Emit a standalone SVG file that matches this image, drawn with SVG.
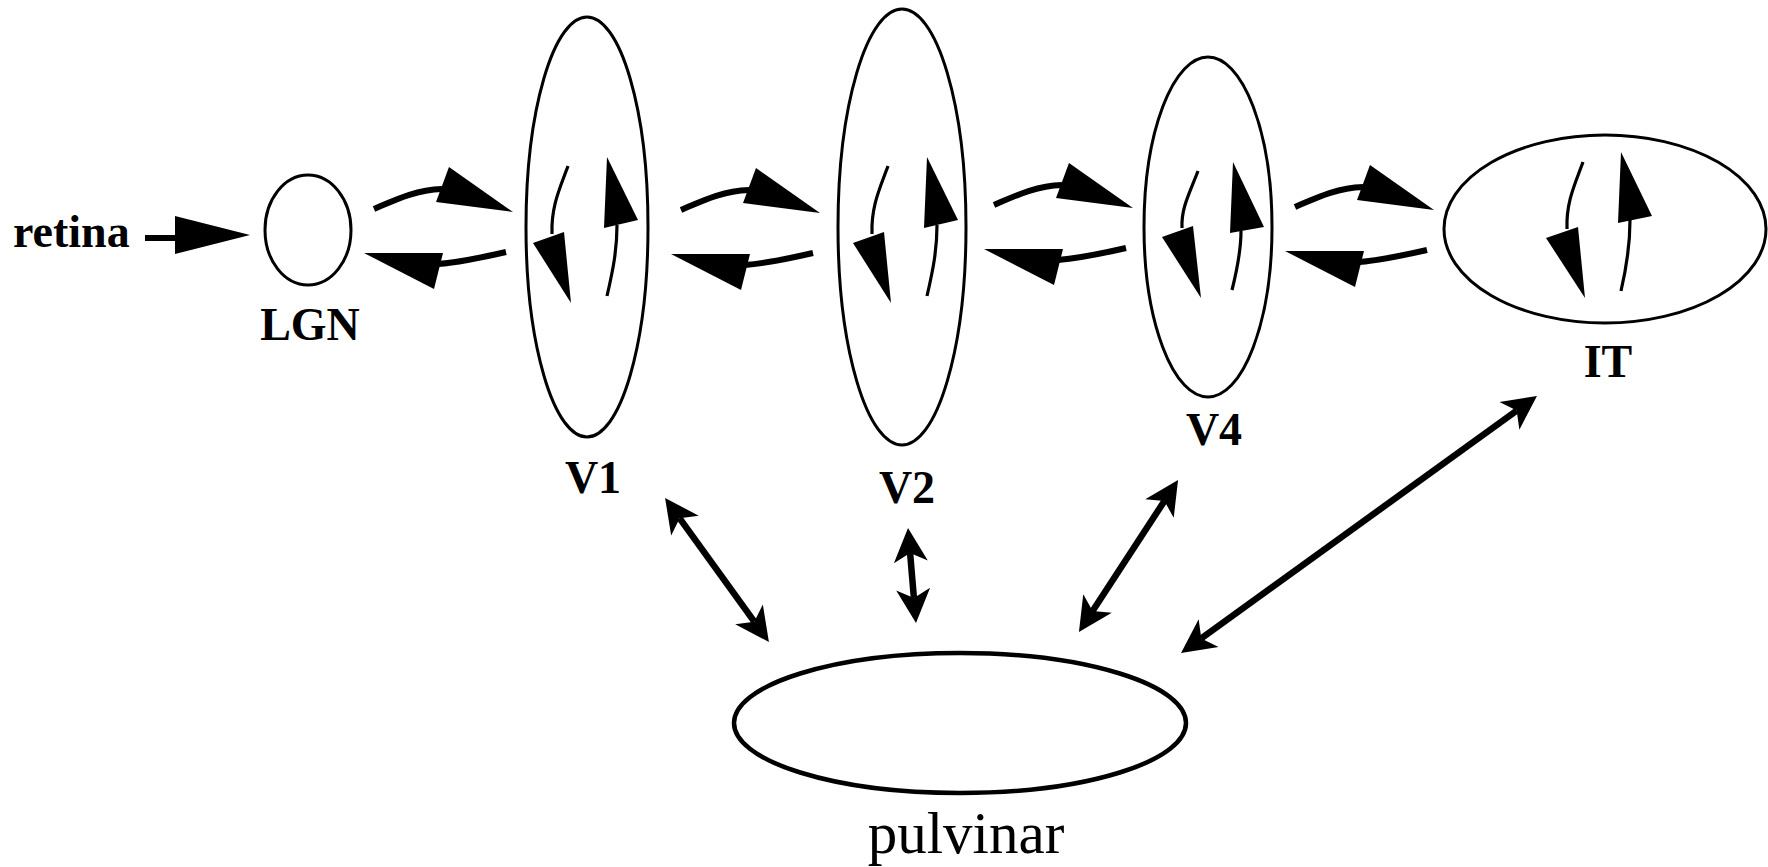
<svg xmlns="http://www.w3.org/2000/svg" xmlns:xlink="http://www.w3.org/1999/xlink" width="1768" height="867" viewBox="0 0 1768 867">
<style>
.area{fill:none;stroke:#000;stroke-width:3}
.thick{fill:none;stroke:#000;stroke-width:6}
.thin{fill:none;stroke:#000;stroke-width:3.2}
.head{fill:#000;stroke:none}
.lbl{font-family:"Liberation Serif","Times New Roman",serif;font-weight:bold;font-size:46px;fill:#000;text-anchor:middle}
.plbl{font-family:"Liberation Serif","Times New Roman",serif;font-size:59px;fill:#000;text-anchor:middle}
.pul{fill:none;stroke:#000;stroke-width:6.5;marker-start:url(#barb);marker-end:url(#barb)}
</style>
<defs>
<marker id="barb" markerUnits="userSpaceOnUse" orient="auto-start-reverse" refX="0" refY="0" markerWidth="40" markerHeight="40" overflow="visible">
<path d="M25,0 L-9,-17 L0,0 L-9,17 Z" fill="#000"/>
</marker>
<g id="pair">
<path class="thick" d="M374,209 C395,200 415,190 442,189"/>
<polygon class="head" points="436,202 449,167 513,212"/>
<path class="thick" d="M506,252 C480,258 462,262 438,264"/>
<polygon class="head" points="443,253 434,289 364,253"/>
</g>
<g id="inner">
<path class="thin" d="M568,166 C560,188 551,206 552,234"/>
<polygon class="head" points="533,243 564,232 571,303"/>
<path class="thin" d="M607,296 C613,270 617,250 617,225"/>
<polygon class="head" points="604,228 638,220 607,157"/>
</g>
</defs>

<g id="retina">
<text class="lbl" x="13" y="247" style="text-anchor:start">retina</text>
</g>

<g id="LGN">
<ellipse class="area" cx="308" cy="230" rx="43" ry="55"/>
<text class="lbl" x="310" y="340">LGN</text>
</g>

<g id="V1">
<ellipse class="area" cx="587" cy="227" rx="61" ry="210"/>
<use xlink:href="#inner" href="#inner"/>
<text class="lbl" x="593" y="493">V1</text>
</g>

<g id="V2">
<ellipse class="area" cx="902" cy="227" rx="64" ry="218"/>
<use xlink:href="#inner" href="#inner" transform="translate(320,0)"/>
<text class="lbl" x="907" y="503">V2</text>
</g>

<g id="V4">
<ellipse class="area" cx="1208" cy="227" rx="64" ry="170"/>
<path class="thin" d="M1198,171 C1190,192 1181,208 1182,228"/>
<polygon class="head" points="1162,237 1193,226 1201,298"/>
<path class="thin" d="M1232,290 C1238,266 1241,248 1241,231"/>
<polygon class="head" points="1230,233 1264,227 1233,162"/>
<text class="lbl" x="1214" y="445">V4</text>
</g>

<g id="IT">
<ellipse class="area" cx="1605" cy="229" rx="161" ry="94"/>
<path class="thin" d="M1583,162 C1575,184 1566,202 1567,229"/>
<polygon class="head" points="1546,238 1578,227 1585,298"/>
<path class="thin" d="M1621,291 C1627,265 1630,245 1630,220"/>
<polygon class="head" points="1618,223 1652,216 1621,152"/>
<text class="lbl" x="1608" y="377">IT</text>
</g>

<g id="pulvinar">
<ellipse cx="960" cy="723" rx="226" ry="70" fill="none" stroke="#000" stroke-width="4.5"/>
<text class="plbl" x="966" y="853">pulvinar</text>
</g>

<g id="connectors">
<line x1="145" y1="238" x2="178" y2="238" stroke="#000" stroke-width="6"/>
<polygon class="head" points="175,216 250,235 175,254"/>
<use xlink:href="#pair" href="#pair"/>
<use xlink:href="#pair" href="#pair" transform="translate(307,1)"/>
<use xlink:href="#pair" href="#pair" transform="translate(620,-4)"/>
<use xlink:href="#pair" href="#pair" transform="translate(921,-2)"/>
<line class="pul" x1="679.7" y1="518.3" x2="754.3" y2="621.7"/>
<line class="pul" x1="910.1" y1="552.9" x2="913.9" y2="598.1"/>
<line class="pul" x1="1164.4" y1="501" x2="1092.6" y2="611"/>
<line class="pul" x1="1516.7" y1="410.6" x2="1201.3" y2="638.4"/>
</g>
</svg>
